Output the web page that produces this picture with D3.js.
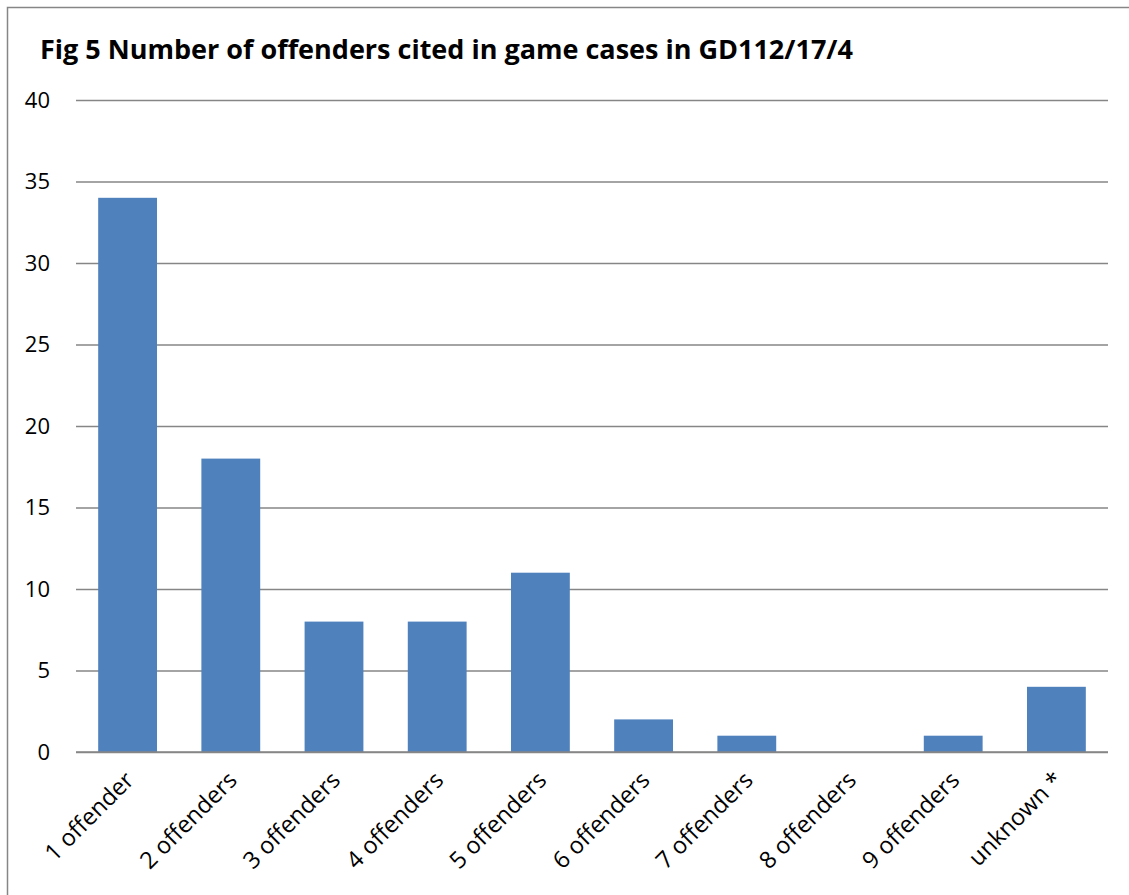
<!DOCTYPE html>
<html>
<head>
<meta charset="utf-8">
<script src="https://cdn.jsdelivr.net/npm/d3@7"></script>
<style>
  body { margin: 0; background: #fff; }
  text { font-family: "Open Sans", sans-serif; fill: #000; }
</style>
</head>
<body>
<svg id="chart" width="1129" height="895"></svg>
<script>
var categories = ["1 offender", "2 offenders", "3 offenders", "4 offenders", "5 offenders",
                  "6 offenders", "7 offenders", "8 offenders", "9 offenders", "unknown *"];
var counts = [34, 18, 8, 8, 11, 2, 1, 0, 1, 4];
var yTicks = [0, 5, 10, 15, 20, 25, 30, 35, 40];

var svg = d3.select("#chart");

// chart frame (right and bottom edges run off the picture)
svg.append("rect")
  .attr("x", 7.5).attr("y", 7.5)
  .attr("width", 1140).attr("height", 900)
  .attr("fill", "none")
  .attr("stroke", "#868686")
  .attr("stroke-width", 1.5);

svg.append("text")
  .attr("x", 40).attr("y", 59)
  .attr("font-size", 27)
  .attr("font-weight", "bold")
  .text("Fig 5 Number of offenders cited in game cases in GD112/17/4");

/*** scales ***/
var xScale = d3.scaleBand()
  .domain(categories)
  .range([76, 1108])
  .paddingInner(0.43)
  .paddingOuter(0.215);

var yScale = d3.scaleLinear()
  .domain([0, 40])
  .range([752, 100]);

/*** gridlines + y labels ***/
var yAxis = d3.axisLeft(yScale)
  .tickValues(yTicks)
  .tickSize(-(1108 - 76))
  .tickPadding(26);

var gy = svg.append("g")
  .attr("transform", "translate(76,0)")
  .call(yAxis);
gy.select(".domain").remove();
gy.selectAll(".tick line")
  .attr("stroke", "#868686")
  .attr("stroke-width", 1.5);
gy.selectAll(".tick text")
  .attr("font-size", 22)
  .attr("font-family", "'Open Sans', sans-serif");

/*** bars ***/
svg.selectAll("rect.bar")
  .data(counts)
  .join("rect")
  .attr("class", "bar")
  .attr("x", (d, i) => xScale(categories[i]))
  .attr("y", d => yScale(d))
  .attr("width", xScale.bandwidth())
  .attr("height", d => yScale(0) - yScale(d))
  .attr("fill", "#4F81BD");

// baseline drawn over bars
svg.append("line")
  .attr("x1", 76).attr("x2", 1108)
  .attr("y1", yScale(0)).attr("y2", yScale(0))
  .attr("stroke", "#868686")
  .attr("stroke-width", 1.5);

/*** x labels, rotated ***/
svg.selectAll("text.xlab")
  .data(categories)
  .join("text")
  .attr("class", "xlab")
  .attr("font-size", 23.5)
  .attr("text-anchor", "end")
  .attr("transform", d => "translate(" + (xScale(d) + xScale.bandwidth() / 2 - 4) + ",770) rotate(-45)")
  .attr("dy", "0.7em")
  .text(d => d);
</script>
</body>
</html>
